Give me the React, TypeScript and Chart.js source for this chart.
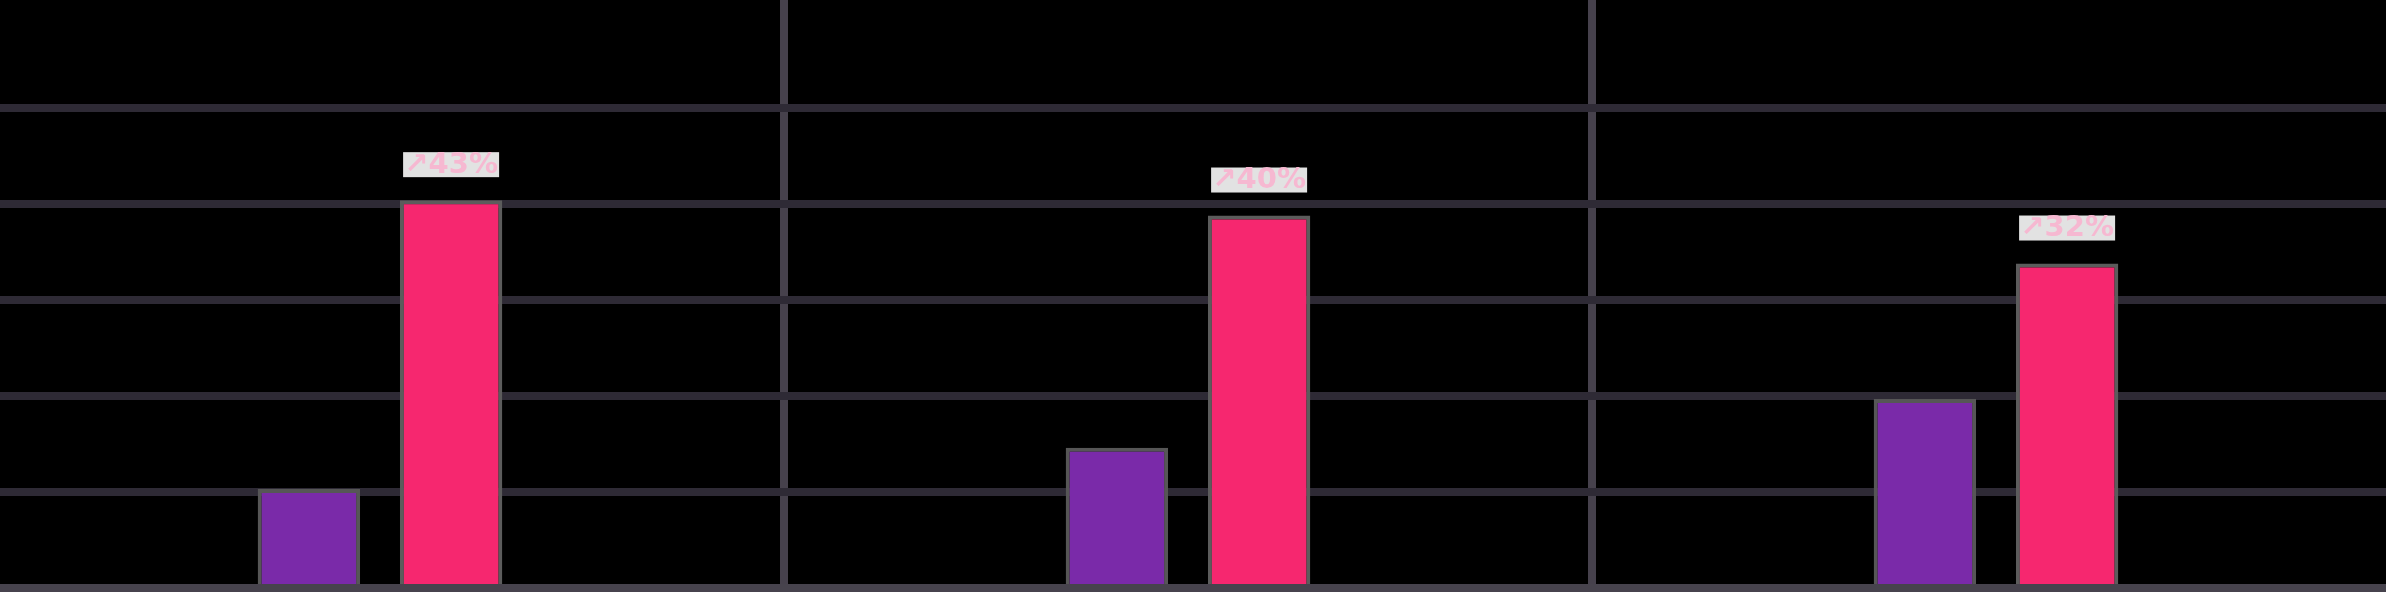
import React, { useEffect, useRef } from 'react';
import { Chart, registerables } from 'chart.js';

Chart.register(...registerables);

const categories = ['2021', '2022', '2023'];
const baseValues = [10.3, 14.6, 19.7];
const currentValues = [40.4, 38.8, 33.8];
const growthLabels = ['↗43%', '↗40%', '↗32%'];
const yTickStep = 10;
const yMax = 61.25;
const yGridTop = 50;

const labelPlugin = {
  id: 'growthLabels',
  afterDatasetsDraw(chart: any) {
    const meta = chart.getDatasetMeta(1);
    const ctx = chart.ctx;
    ctx.save();
    meta.data.forEach((bar: any, i: number) => {
      const cx = bar.x;
      const cy = bar.y - 36;
      ctx.fillStyle = '#e2e2e2';
      ctx.fillRect(cx - 48, cy - 12, 96, 25);
      ctx.fillStyle = '#f6b8d1';
      ctx.font = 'bold 29px "DejaVu Sans"';
      ctx.textAlign = 'center';
      ctx.textBaseline = 'middle';
      ctx.fillText(growthLabels[i], cx, cy + 1);
    });
    ctx.restore();
  },
};

export default function App() {
  const ref = useRef<HTMLCanvasElement | null>(null);

  useEffect(() => {
    document.body.style.margin = '0';
    document.body.style.background = '#000';
    document.documentElement.style.background = '#000';
    const canvas = ref.current!;
    const chart = new Chart(canvas, {
      type: 'bar',
      data: {
        labels: categories,
        datasets: [
          {
            label: 'Before',
            data: baseValues,
            backgroundColor: '#7a2aa9',
            borderColor: '#565656',
            borderWidth: 4,
            categoryPercentage: 0.352,
            barPercentage: 0.72,
          },
          {
            label: 'After',
            data: currentValues,
            backgroundColor: '#f6276f',
            borderColor: '#5c5c5c',
            borderWidth: 4,
            categoryPercentage: 0.352,
            barPercentage: 0.72,
          },
        ],
      },
      options: {
        animation: false,
        responsive: false,
        devicePixelRatio: 1,
        layout: { padding: 0 },
        plugins: {
          legend: { display: false },
          tooltip: { enabled: false },
          title: { display: false },
        },
        scales: {
          x: {
            type: 'category',
            offset: true,
            grid: {
              offset: true,
              color: '#46414c',
              lineWidth: 8,
              drawTicks: false,
            },
            border: { display: false },
            ticks: { display: false },
            afterFit: (s: any) => {
              s.height = 4;
            },
          },
          y: {
            min: 0,
            max: yMax,
            grid: {
              color: (c: any) => {
                const v = c.tick ? c.tick.value : 0;
                if (v === 0) return '#47434d';
                if (v > yGridTop) return 'rgba(0,0,0,0)';
                return '#2e2a35';
              },
              lineWidth: 8,
              drawTicks: false,
            },
            border: { display: false },
            ticks: { display: false, stepSize: yTickStep },
            afterFit: (s: any) => {
              s.width = 0;
            },
          },
        },
      },
      plugins: [labelPlugin],
    });
    return () => chart.destroy();
  }, []);

  return (
    <div
      style={{
        position: 'relative',
        width: 2386,
        height: 592,
        overflow: 'hidden',
        background: '#000',
      }}
    >
      <div style={{ position: 'absolute', left: -24, top: 0, width: 2424, height: 592 }}>
        <canvas ref={ref} width={2424} height={592} style={{ display: 'block' }} />
      </div>
    </div>
  );
}
